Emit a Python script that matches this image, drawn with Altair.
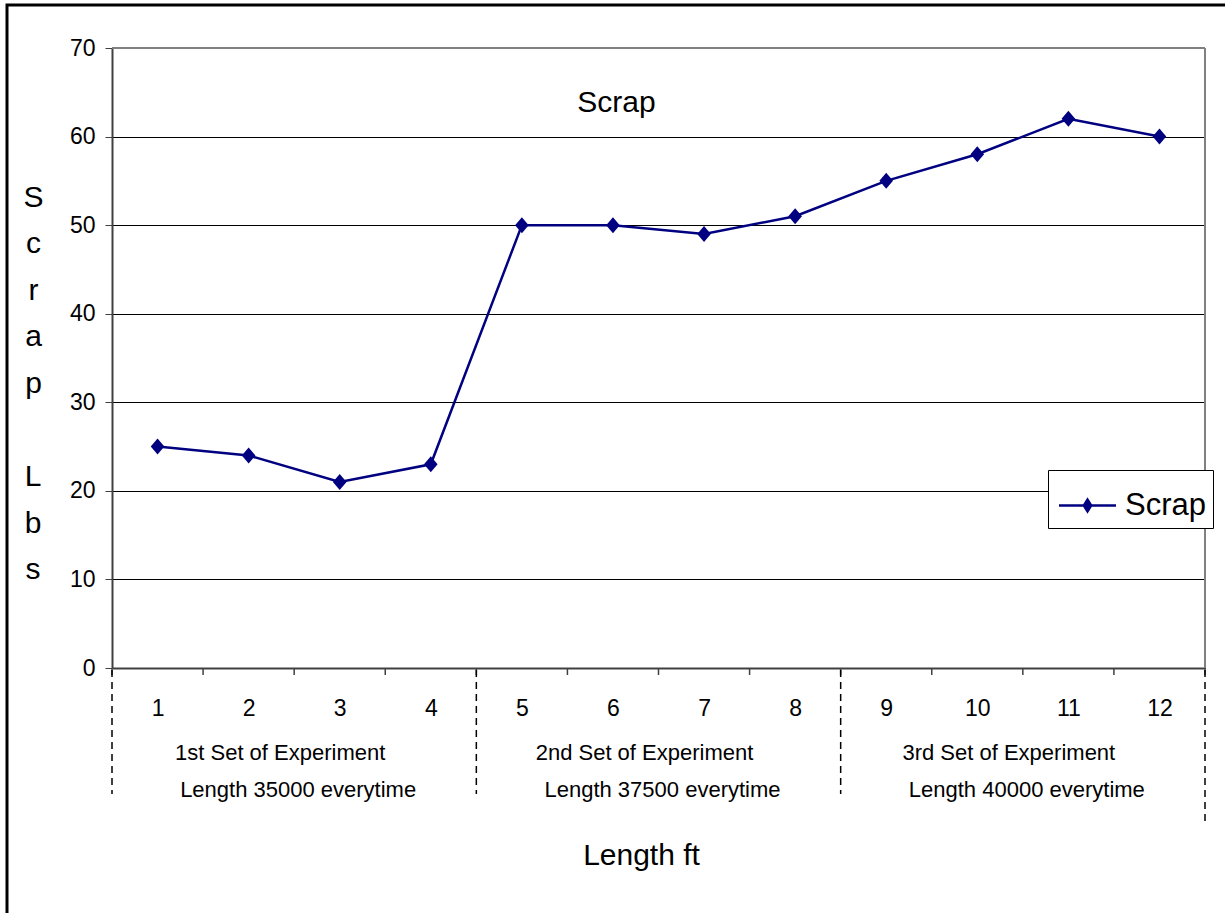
import altair as alt
import pandas as pd

# ---- data ----
runs = list(range(1, 13))
scrap = [25, 24, 21, 23, 50, 50, 49, 51, 55, 58, 62, 60]
series_name = ["Scrap"] * 12

group_centers = [2.5, 6.5, 10.5]
group_line1 = ["1st Set of Experiment", "2nd Set of Experiment", "3rd Set of Experiment"]
group_line2 = ["Length 35000 everytime", "Length 37500 everytime", "Length 40000 everytime"]

divider_x = [0.5, 4.5, 8.5]
last_divider_x = [12.5]
tick_bounds = [0.5 + i for i in range(13)]
y_ticks = [0, 10, 20, 30, 40, 50, 60, 70]
y_title_word1 = ["S", "c", "r", "a", "p"]
y_title_word2 = ["L", "b", "s"]

FONT = "Liberation Sans"
NAVY = "#000080"

df = pd.DataFrame({"run": runs, "scrap": scrap, "series": series_name})
groups = pd.DataFrame({"xc": group_centers, "l1": group_line1, "l2": group_line2})
divs = pd.DataFrame({"x": divider_x})
last_div = pd.DataFrame({"x": last_divider_x})
ticks = pd.DataFrame({"x": tick_bounds})
topline = pd.DataFrame({"x": [0.5], "x2": [12.5], "y": [70]})
rightline = pd.DataFrame({"x": [12.5], "y": [0], "y2": [70]})

xscale = alt.Scale(domain=[0.5, 12.5], nice=False, zero=False)
yscale = alt.Scale(domain=[0, 70], nice=False)

x_enc = alt.X(
    "run:Q", scale=xscale,
    axis=alt.Axis(
        values=runs, format="d", ticks=False, tickSize=0, grid=False, labelFontSize=23,
        labelFont=FONT, labelColor="black", labelPadding=47, labelBaseline="alphabetic",
        domainColor="#404040", domainWidth=2,
        title="Length ft", titleFont=FONT, titleFontSize=30, titleFontWeight="normal",
        titleColor="black", titleX=529, titleY=187, titleBaseline="middle", titleAnchor="start",
        titleAlign="center",
    ),
)
y_enc = alt.Y(
    "scrap:Q", scale=yscale,
    axis=alt.Axis(
        values=y_ticks, grid=True, gridColor="black", gridWidth=1, tickSize=7,
        tickColor="#404040", labelFontSize=23, labelFont=FONT, labelColor="black",
        labelPadding=10, domainColor="#404040", domainWidth=2,
        title=y_title_word1, titleAngle=0,
        titleFont=FONT, titleFontSize=30, titleFontWeight="normal", titleColor="black",
        titleLineHeight=46.6, titleX=-79, titleY=149, titleAlign="center",
        titleBaseline="middle",
    ),
)

line = alt.Chart(df).mark_line(color=NAVY, strokeWidth=2.5).encode(x=x_enc, y=y_enc)

legend_path = "M-1,-0.045H1V0.045H-1Z M-0.18,0L0,-0.29L0.18,0L0,0.29Z"
marker_path = "M-0.85,0L0,-1L0.85,0L0,1Z"
points = alt.Chart(df).mark_point(shape=marker_path, filled=True, size=256, opacity=1).encode(
    x="run:Q", y="scrap:Q",
    color=alt.Color(
        "series:N", scale=alt.Scale(range=[NAVY]),
        legend=alt.Legend(
            title=None, orient="none", legendX=936, legendY=422,
            fillColor="white", strokeColor="black", padding=7,
            symbolType=legend_path, symbolSize=3249, symbolStrokeWidth=0,
            symbolOffset=4, labelOffset=9, labelFont=FONT, labelFontSize=31,
            labelColor="black", symbolFillColor=NAVY,
        ),
    ),
)

# second word of the stacked y-axis title ("Lbs")
ytitle2 = alt.Chart(pd.DataFrame({"k": [0]})).mark_text(
    text=y_title_word2, font=FONT, fontSize=30, lineHeight=46.6, align="center",
    baseline="middle", color="black",
).encode(x=alt.value(-79), y=alt.value(429))

top_rule = alt.Chart(topline).mark_rule(color="#808080", strokeWidth=2).encode(
    x=alt.X("x:Q", scale=xscale), x2="x2:Q", y=alt.Y("y:Q", scale=yscale))
right_rule = alt.Chart(rightline).mark_rule(color="#808080", strokeWidth=2).encode(
    x=alt.X("x:Q", scale=xscale), y=alt.Y("y:Q", scale=yscale), y2="y2:Q")

tick_rules = alt.Chart(ticks).mark_rule(color="#404040", strokeWidth=1.5).encode(
    x=alt.X("x:Q", scale=xscale), y=alt.value(620), y2=alt.value(627))

dash_rules = alt.Chart(divs).mark_rule(color="black", strokeWidth=1.5, strokeDash=[7, 5]).encode(
    x=alt.X("x:Q", scale=xscale), y=alt.value(622), y2=alt.value(746))
dash_last = alt.Chart(last_div).mark_rule(color="black", strokeWidth=1.5, strokeDash=[7, 5]).encode(
    x=alt.X("x:Q", scale=xscale), y=alt.value(622), y2=alt.value(775))

lab1 = alt.Chart(groups).mark_text(font=FONT, fontSize=22, baseline="middle", dx=-14, color="black").encode(
    x=alt.X("xc:Q", scale=xscale), y=alt.value(705), text="l1:N")
lab2 = alt.Chart(groups).mark_text(font=FONT, fontSize=22, baseline="middle", dx=4, color="black").encode(
    x=alt.X("xc:Q", scale=xscale), y=alt.value(742), text="l2:N")

frame = alt.Chart(pd.DataFrame({"k": [0]})).mark_rect(
    fill=None, stroke="black", strokeWidth=3).encode(
    x=alt.value(-105), x2=alt.value(1125), y=alt.value(-43), y2=alt.value(880))

chart = alt.layer(
    frame, line, points, ytitle2, top_rule, right_rule, tick_rules, dash_rules, dash_last, lab1, lab2
).properties(
    width=1093, height=620,
    padding={"left": 112, "top": 48, "right": 20, "bottom": 245},
    autosize=alt.AutoSizeParams(type="none"),
    title=alt.TitleParams(
        "Scrap", font=FONT, fontSize=30, fontWeight="normal", color="black",
        anchor="middle", frame="group", offset=0, baseline="middle", dx=-42, dy=129,
    ),
    background="white",
).configure_view(stroke=None)

chart.save("out.html", embed_options={"renderer": "svg", "actions": False})
